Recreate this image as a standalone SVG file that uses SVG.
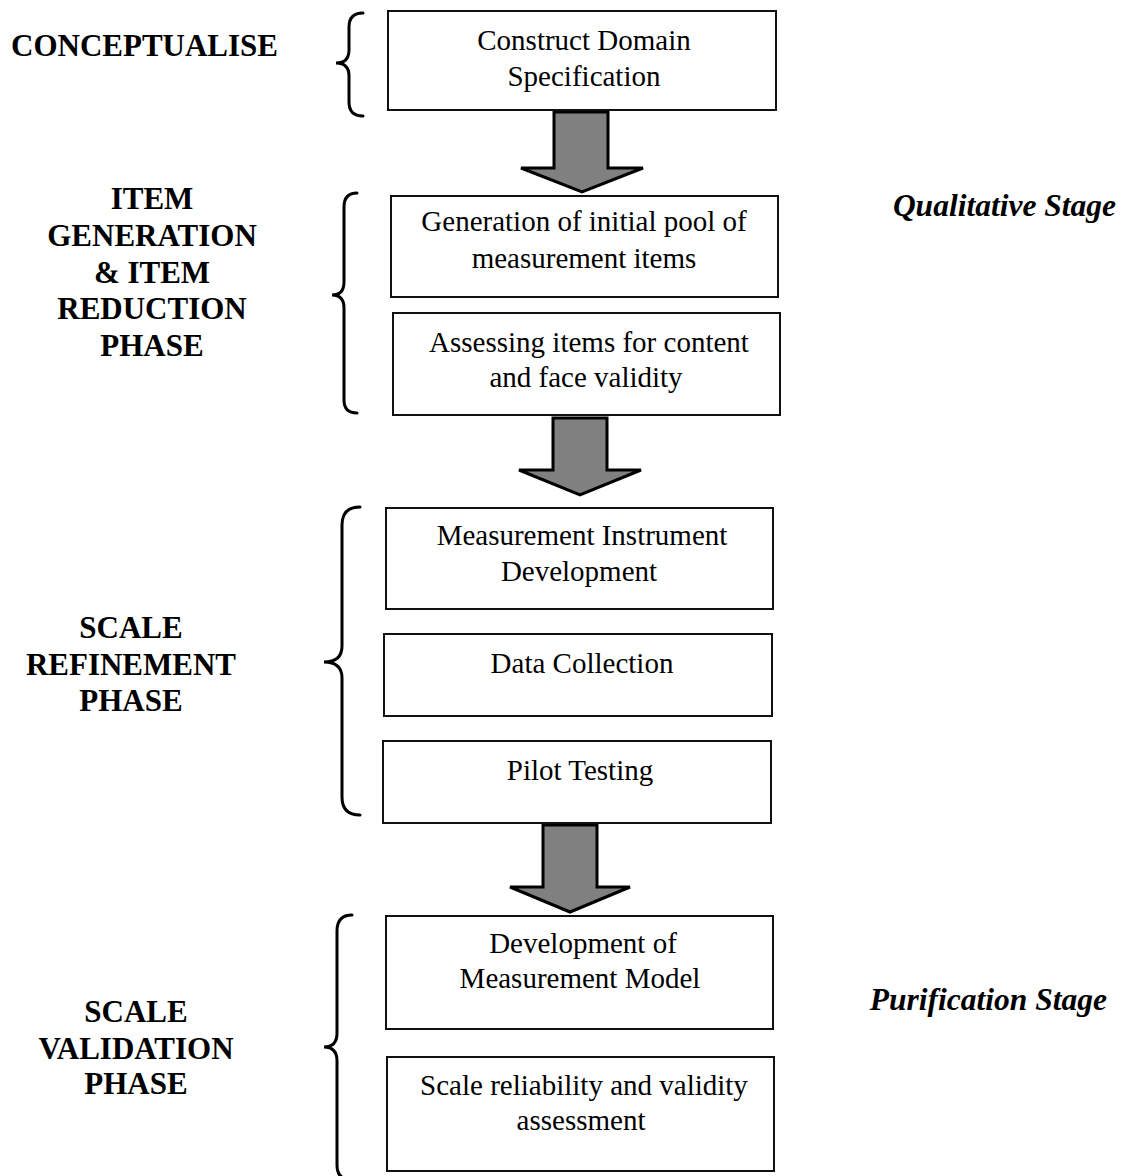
<svg xmlns="http://www.w3.org/2000/svg" width="1122" height="1176" viewBox="0 0 1122 1176">
  <style>
    .box { fill: #ffffff; stroke: #111111; stroke-width: 2; }
    .txt { font-family: "Liberation Serif", "Times New Roman", serif; font-size: 29px; fill: #000000; text-anchor: middle; }
    .phase { font-family: "Liberation Serif", "Times New Roman", serif; font-size: 31px; font-weight: bold; fill: #000000; text-anchor: middle; }
    .stage { font-family: "Liberation Serif", "Times New Roman", serif; font-size: 31.5px; font-weight: bold; font-style: italic; fill: #000000; text-anchor: end; }
    .brace { fill: none; stroke: #000000; stroke-width: 3; stroke-linecap: round; }
    .flow { fill: #808080; stroke: #000000; stroke-width: 3; stroke-linejoin: miter; }
  </style>
  <rect width="1122" height="1176" fill="#ffffff"/>

  <!-- phase labels -->
  <g id="label-conceptualise">
    <text class="phase" x="11" y="56" style="text-anchor:start">CONCEPTUALISE</text>
  </g>
  <g id="label-item-phase">
    <text class="phase" x="152" y="209">ITEM</text>
    <text class="phase" x="152" y="246">GENERATION</text>
    <text class="phase" x="152" y="283">&amp; ITEM</text>
    <text class="phase" x="152" y="319">REDUCTION</text>
    <text class="phase" x="152" y="356">PHASE</text>
  </g>
  <g id="label-refinement">
    <text class="phase" x="131" y="638">SCALE</text>
    <text class="phase" x="131" y="675">REFINEMENT</text>
    <text class="phase" x="131" y="711">PHASE</text>
  </g>
  <g id="label-validation">
    <text class="phase" x="136" y="1022">SCALE</text>
    <text class="phase" x="136" y="1059">VALIDATION</text>
    <text class="phase" x="136" y="1094">PHASE</text>
  </g>

  <!-- stage labels -->
  <g id="label-qualitative">
    <text class="stage" x="1116" y="216">Qualitative Stage</text>
  </g>
  <g id="label-purification">
    <text class="stage" x="1107" y="1010">Purification Stage</text>
  </g>

  <!-- curly braces grouping the steps -->
  <g id="braces">
    <path class="brace" d="M363,13 Q349,13 349,27 L349,50 Q349,63 336,63 Q349,63 349,76 L349,102 Q349,116 363,116"/>
    <path class="brace" d="M357,193 Q344,193 344,207 L344,282 Q344,295 332,295 Q344,295 344,308 L344,400 Q344,413 357,413"/>
    <path class="brace" d="M360,507 Q342,507 342,525 L342,646 Q342,662 324,662 Q342,662 342,678 L342,797 Q342,815 360,815"/>
    <path class="brace" d="M352,915 Q337,915 337,931 L337,1033 Q337,1047 324,1047 Q337,1047 337,1061 L337,1165 Q337,1180 352,1180"/>
  </g>

  <!-- block arrows between phases -->
  <g id="connectors">
    <path class="flow" d="M554,112 L608,112 L608,168 L643,168 L582,192 L521,168 L554,168 Z"/>
    <path class="flow" d="M553,418 L607,418 L607,470 L641,470 L580,495 L519,470 L553,470 Z"/>
    <path class="flow" d="M543,825 L597,825 L597,887 L630,887 L570,912 L510,887 L543,887 Z"/>
  </g>

  <!-- step boxes -->
  <g id="node-construct">
    <rect class="box" x="388" y="11" width="388" height="99"/>
    <text class="txt" x="584" y="50">Construct Domain</text>
    <text class="txt" x="584" y="86">Specification</text>
  </g>
  <g id="node-generation">
    <rect class="box" x="391" y="196" width="387" height="101"/>
    <text class="txt" x="584" y="231">Generation of initial pool of</text>
    <text class="txt" x="584" y="268">measurement items</text>
  </g>
  <g id="node-assessing">
    <rect class="box" x="393" y="313" width="387" height="102"/>
    <text class="txt" x="589" y="352">Assessing items for content</text>
    <text class="txt" x="586" y="387">and face validity</text>
  </g>
  <g id="node-instrument">
    <rect class="box" x="386" y="508" width="387" height="101"/>
    <text class="txt" x="582" y="545">Measurement Instrument</text>
    <text class="txt" x="579" y="581">Development</text>
  </g>
  <g id="node-data">
    <rect class="box" x="384" y="634" width="388" height="82"/>
    <text class="txt" x="582" y="673">Data Collection</text>
  </g>
  <g id="node-pilot">
    <rect class="box" x="383" y="741" width="388" height="82"/>
    <text class="txt" x="580" y="780">Pilot Testing</text>
  </g>
  <g id="node-model">
    <rect class="box" x="386" y="916" width="387" height="113"/>
    <text class="txt" x="583" y="953">Development of</text>
    <text class="txt" x="580" y="988">Measurement Model</text>
  </g>
  <g id="node-reliability">
    <rect class="box" x="387" y="1057" width="387" height="114"/>
    <text class="txt" x="584" y="1095">Scale reliability and validity</text>
    <text class="txt" x="581" y="1130">assessment</text>
  </g>
</svg>
